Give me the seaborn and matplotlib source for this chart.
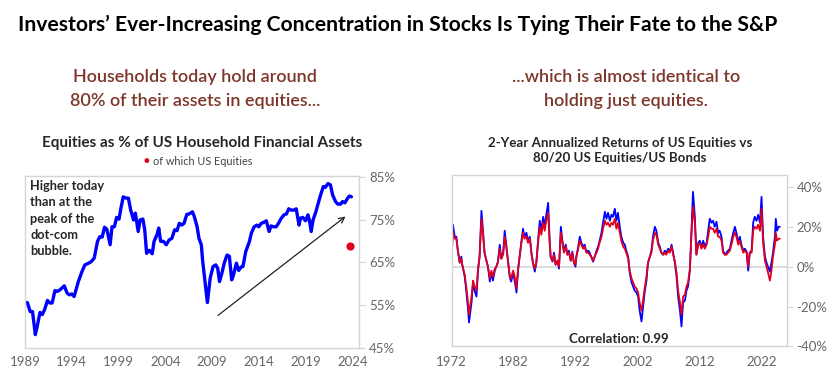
import numpy as np
import pandas as pd
import seaborn as sns
import matplotlib.pyplot as plt

# left panel: equities as % of household financial assets (quarterly-ish)
hh_year = [1989.0, 1989.25, 1989.55, 1989.8, 1990.1, 1990.3, 1990.6, 1990.85, 1991.1, 1991.4,
           1991.65, 1991.9, 1992.2, 1992.45, 1992.75, 1993.2, 1993.5, 1993.75, 1994.0, 1994.25,
           1994.7, 1995.1, 1995.4, 1995.8, 1996.1, 1996.4, 1996.75, 1997.0, 1997.25, 1997.5,
           1997.75, 1998.1, 1998.3, 1998.55, 1998.8, 1999.05, 1999.25, 1999.5, 1999.8, 2000.05,
           2000.3, 2000.6, 2000.8, 2001.1, 2001.3, 2001.6, 2001.8, 2002.0, 2002.3, 2002.6,
           2002.8, 2003.1, 2003.3, 2003.5, 2003.8, 2004.1, 2004.4, 2004.7, 2005.0, 2005.25,
           2005.5, 2005.75, 2006.0, 2006.3, 2006.55, 2006.9, 2007.1, 2007.4, 2007.6, 2007.85,
           2008.0, 2008.3, 2008.5, 2008.8, 2009.1, 2009.4, 2009.6, 2009.8, 2010.1, 2010.3,
           2010.6, 2010.85, 2011.1, 2011.3, 2011.6, 2011.85, 2012.1, 2012.3, 2012.6, 2013.0,
           2013.2, 2013.5, 2013.8, 2014.0, 2014.25, 2014.5, 2014.8, 2015.1, 2015.3, 2015.6,
           2015.85, 2016.1, 2016.4, 2016.7, 2016.95, 2017.2, 2017.45, 2017.75, 2018.0, 2018.3,
           2018.45, 2018.7, 2019.0, 2019.25, 2019.4, 2019.6, 2019.8, 2020.1, 2020.3, 2020.6,
           2020.9, 2021.1, 2021.4, 2021.65, 2021.9, 2022.2, 2022.45, 2022.75, 2022.95, 2023.2,
           2023.5, 2023.7, 2023.9]
hh_equity = [55.5, 55.6, 53.5, 53.5, 48.1, 50.0, 53.3, 52.8, 54.0, 56.1,
             55.5, 55.5, 58.4, 58.2, 58.6, 59.5, 57.8, 57.4, 57.6, 57.0,
             60.5, 62.9, 64.4, 64.8, 65.2, 66.0, 69.9, 71.0, 70.9, 73.2,
             72.7, 69.1, 73.3, 73.3, 75.5, 75.1, 77.6, 80.3, 80.0, 80.0,
             77.2, 74.9, 76.5, 72.2, 74.9, 75.1, 72.6, 67.1, 67.8, 67.0,
             69.9, 71.4, 73.0, 69.9, 69.9, 69.1, 70.2, 70.6, 72.6, 72.4,
             74.1, 73.7, 74.1, 76.2, 76.3, 76.8, 75.7, 73.3, 70.6, 69.1,
             65.2, 59.4, 55.6, 61.3, 64.0, 64.4, 63.6, 60.5, 62.9, 64.8,
             66.7, 66.4, 60.9, 62.1, 64.8, 63.1, 63.9, 64.0, 67.5, 69.9,
             71.8, 73.3, 73.7, 73.3, 74.1, 74.3, 74.7, 72.2, 73.5, 73.3,
             73.3, 74.1, 75.3, 76.1, 76.3, 77.5, 77.2, 77.2, 77.5, 73.7,
             75.3, 75.5, 74.7, 76.1, 74.9, 72.2, 74.9, 76.8, 78.4, 80.7,
             82.7, 82.5, 83.4, 83.1, 80.7, 79.2, 78.6, 78.6, 79.2, 78.9,
             80.0, 80.5, 80.3]
us_only_year = [2023.75]
us_only_pct = [68.8]

# right panel: 2-year annualized returns (%)
ret_year = [1972.0, 1972.05, 1972.2, 1972.5, 1972.75, 1973.0, 1973.3, 1973.55, 1973.7, 1974.1,
            1974.35, 1974.6, 1974.8, 1975.2, 1975.45, 1975.6, 1976.0, 1976.25, 1976.5, 1976.8,
            1977.05, 1977.3, 1977.6, 1977.85, 1978.15, 1978.4, 1978.65, 1978.95, 1979.2, 1979.45,
            1979.75, 1980.0, 1980.3, 1980.55, 1980.8, 1981.1, 1981.35, 1981.6, 1981.9, 1982.15,
            1982.45, 1982.7, 1982.95, 1983.25, 1983.5, 1983.75, 1984.05, 1984.3, 1984.6, 1984.85,
            1985.1, 1985.4, 1985.65, 1985.9, 1986.2, 1986.45, 1986.75, 1987.0, 1987.25, 1987.55,
            1987.8, 1987.95, 1988.25, 1988.5, 1988.75, 1989.05, 1989.3, 1989.6, 1989.85, 1990.1,
            1990.4, 1990.65, 1990.9, 1991.2, 1991.45, 1991.7, 1991.95, 1992.1, 1992.4, 1992.65,
            1992.9, 1993.2, 1993.45, 1993.7, 1994.0, 1994.25, 1994.5, 1994.8, 1995.05, 1995.35,
            1995.6, 1995.85, 1996.15, 1996.4, 1996.7, 1996.95, 1997.2, 1997.5, 1997.75, 1998.0,
            1998.3, 1998.55, 1998.8, 1999.1, 1999.35, 1999.65, 1999.9, 2000.15, 2000.45, 2000.7,
            2001.0, 2001.25, 2001.5, 2001.8, 2002.05, 2002.3, 2002.6, 2002.75, 2003.1, 2003.4,
            2003.65, 2003.95, 2004.2, 2004.45, 2004.75, 2005.0, 2005.3, 2005.55, 2005.8, 2006.1,
            2006.35, 2006.6, 2006.9, 2007.15, 2007.45, 2007.7, 2007.95, 2008.25, 2008.5, 2008.8,
            2009.05, 2009.3, 2009.6, 2009.85, 2010.1, 2010.4, 2010.65, 2010.9, 2011.2, 2011.45,
            2011.75, 2012.0, 2012.25, 2012.55, 2012.8, 2013.1, 2013.35, 2013.6, 2013.9, 2014.15,
            2014.4, 2014.7, 2014.95, 2015.2, 2015.5, 2015.75, 2016.05, 2016.3, 2016.55, 2016.85,
            2017.1, 2017.4, 2017.65, 2017.9, 2018.2, 2018.45, 2018.7, 2019.0, 2019.25, 2019.55,
            2019.8, 2020.05, 2020.35, 2020.6, 2020.85, 2021.15, 2021.4, 2021.7, 2021.95, 2022.2,
            2022.5, 2022.75, 2023.0, 2023.3, 2023.55, 2023.8, 2024.1, 2024.25, 2024.45, 2024.7,
            2024.9]
us_equities = [4, 9, 21, 15, 15, 8, 2, 5, 1, -5,
               -12, -20, -28, -18, -8, -11, -15, -2, 5, 28,
               18, 7, 3, 0, -7.5, -3, -7, -2, 0, 2.5,
               11, 4, 7, 18, 11, 2.5, -5, -7.5, -3, -7,
               -13, -2, 5, 13, 19, 15, 17, 13, 15, 7,
               2, -2.5, 2, 12, 23, 18, 25, 20, 26, 32,
               13, 5, 2.5, 7, 1, 3, -1, 20, 13, 8,
               11, 6, 8, 3, 7.5, 2, 0, 5, 10, 15,
               12, 10, 11, 7.5, 8, 7, 5, 2.5, 5, 8,
               10, 13, 17, 22, 27.5, 24, 27, 23, 26, 25,
               29, 23, 27, 20, 15, 12, 11, 8, 5, -3,
               -8, -10, -12, -13, -15, -22, -27.5, -23, -13, -7,
               2, 5, 8, 15, 20, 18, 12, 10, 7, 6,
               8, 7, 9, 7.5, 11, 7, 2.5, -5, -15, -22,
               -30, -18, -17, -12, -10, -2, 18, 37.5, 25, 6,
               12, 13, 10, 13, 10, 12, 18, 24, 22, 23,
               20, 22.5, 17, 18, 15, 8, 6, 7, 8, 9,
               13, 17, 20, 17, 12, 15, 11, 8, 9, 7.5,
               -2, 7, 8, 22, 25, 23, 26, 22, 35, 15,
               5, 2, 0, -2.5, 2, 7, 15, 24, 18, 20,
               20]
mix_80_20 = [6, 9, 17, 14, 14, 8, 2, 4, 1, -4,
             -10, -17, -24, -15, -7, -9, -12, -1, 5, 24,
             16, 7, 3, 0, -6, -2, -5, -1, 0, 2,
             9, 4, 6, 15, 10, 2, -4, -6, -2, -5,
             -11, -1, 5, 12, 17, 14, 15, 12, 14, 7,
             2, -1, 2, 11, 20, 16, 22, 18, 23, 27,
             12, 5, 3, 6, 1, 3, 0, 17, 12, 7,
             10, 6, 7, 3, 7, 2, 1, 5, 9, 13,
             11, 9, 10, 7, 7, 6, 5, 3, 5, 7,
             9, 12, 15, 19, 23, 21, 22, 20, 22, 21,
             24, 19, 22, 17, 13, 10, 9, 7, 4, -2,
             -6, -8, -10, -11, -13, -18, -22, -19, -11, -5,
             2, 5, 7, 13, 17, 16, 11, 9, 7, 6,
             7, 6, 8, 7, 10, 6, 3, -3, -12, -18,
             -24, -15, -14, -10, -8, -1, 16, 30, 22, 6,
             11, 12, 9, 11, 9, 11, 15, 20, 19, 19,
             17, 19, 15, 15, 13, 7, 6, 6, 7, 8,
             11, 15, 17, 15, 11, 13, 10, 7, 8, 7,
             0, 7, 7, 18, 20, 19, 21, 18, 29, 12,
             3, 0, -3, -7, -2, 5, 11, 17, 13, 14,
             14]

hh = pd.DataFrame({"year": hh_year, "pct": hh_equity})
ret = pd.DataFrame({"year": ret_year, "US Equities": us_equities, "80/20": mix_80_20})

sns.set_style("white")
plt.rcParams['font.family'] = ['Lato', 'DejaVu Sans']

fig = plt.figure(figsize=(8.4, 3.79), dpi=100)
maroon = "#7d3629"
frame = "#d4d4d4"
tick_col = "#666666"

fig.text(0.022, 0.935, "Investors\u2019 Ever-Increasing Concentration in Stocks Is Tying Their Fate to the S&P",
         fontsize=15.2, fontweight="bold", color="black", va="center", ha="left")
fig.text(0.232, 0.765, "Households today hold around\n80% of their assets in equities...",
         fontsize=13, color=maroon, ha="center", va="center", linespacing=1.65, fontweight="semibold")
fig.text(0.745, 0.765, "...which is almost identical to\nholding just equities.",
         fontsize=13, color=maroon, ha="center", va="center", linespacing=1.65, fontweight="semibold")

# ---- left panel
ax1 = fig.add_axes([0.0298, 0.082, 0.398, 0.454])
sns.lineplot(data=hh, x="year", y="pct", ax=ax1, color="#0000ff", linewidth=2.4)
ax1.scatter(us_only_year, us_only_pct, color="#e4001b", s=24, zorder=5)
ax1.annotate("", xy=(2023.5, 76.1), xytext=(2009.4, 52.2),
             arrowprops=dict(arrowstyle="->", color="#222222", lw=0.9))
ax1.text(0.016, 0.975, "Higher today\nthan at the\npeak of the\ndot-com\nbubble.",
         transform=ax1.transAxes, fontsize=9.2, fontweight="bold", va="top", ha="left",
         linespacing=1.42)
ax1.set_xlim(1989, 2024.75)
ax1.set_ylim(45, 85.2)
ax1.set_xticks(range(1989, 2025, 5))
ax1.set_yticks([45, 55, 65, 75, 85])
ax1.set_yticklabels([f"{v}%" for v in [45, 55, 65, 75, 85]])
ax1.yaxis.tick_right()
ax1.tick_params(axis="y", direction="out", length=4, color=frame, labelcolor=tick_col, labelsize=9.5, pad=3)
ax1.tick_params(axis="x", direction="out", length=3, color=frame, labelcolor=tick_col, labelsize=9.5, pad=3)
ax1.set_xlabel("")
ax1.set_ylabel("")
for s in ax1.spines.values():
    s.set_color(frame)
    s.set_linewidth(1.0)
fig.text(0.241, 0.622, "Equities as % of US Household Financial Assets",
         fontsize=11, fontweight="bold", ha="center", va="center")
fig.text(0.1775, 0.573, "\u25cf", color="#e4001b", fontsize=7, ha="right", va="center")
fig.text(0.182, 0.573, "of which US Equities", color="#444444", fontsize=7.8, ha="left", va="center")

# ---- right panel
ax2 = fig.add_axes([0.5377, 0.086, 0.3988, 0.4525])
ax2.axhline(0, color="#d9d9d9", lw=1.3, zorder=1)
long = ret.melt(id_vars="year", var_name="series", value_name="ret")
sns.lineplot(data=long, x="year", y="ret", hue="series", ax=ax2,
             palette={"US Equities": "#0000ff", "80/20": "#e4001b"},
             hue_order=["US Equities", "80/20"], linewidth=1.3, legend=False)
ax2.set_xlim(1972, 2026)
ax2.set_ylim(-40, 46)
ax2.set_xticks(range(1972, 2023, 10))
ax2.set_yticks([-40, -20, 0, 20, 40])
ax2.set_yticklabels([f"{v}%" for v in [-40, -20, 0, 20, 40]])
ax2.yaxis.tick_right()
ax2.tick_params(axis="y", direction="out", length=4, color=frame, labelcolor=tick_col, labelsize=9.5, pad=3)
ax2.tick_params(axis="x", length=0, labelcolor=tick_col, labelsize=9.5, pad=7)
ax2.set_xlabel("")
ax2.set_ylabel("")
for s in ax2.spines.values():
    s.set_color(frame)
    s.set_linewidth(1.0)
ax2.text(0.5, 0.045, "Correlation: 0.99", transform=ax2.transAxes, fontsize=9.5,
         fontweight="bold", ha="center", va="center")
fig.text(0.738, 0.603, "2-Year Annualized Returns of US Equities vs\n80/20 US Equities/US Bonds",
         fontsize=9.6, fontweight="bold", ha="center", va="center", linespacing=1.3)

fig.savefig("out.png", dpi=100)
